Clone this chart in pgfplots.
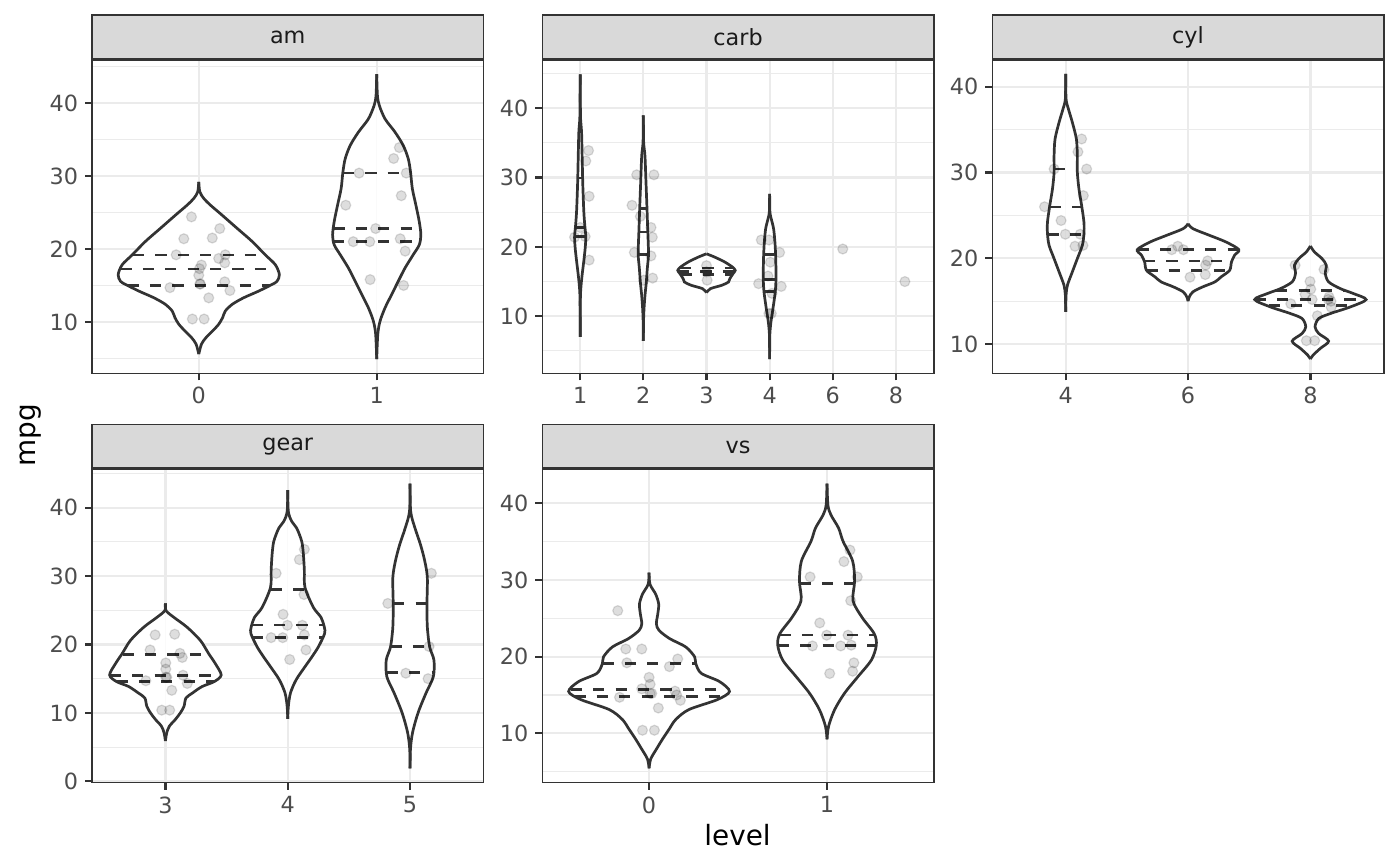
\documentclass[border=0pt]{standalone}
\usepackage{fontspec}
\setmainfont{DejaVu Sans}
\usepackage{pgfplots}
\usepackage{pgfplotstable}
\pgfplotsset{compat=1.18}
\usetikzlibrary{calc}

\definecolor{grey10}{HTML}{1A1A1A}
\definecolor{grey20}{HTML}{333333}
\definecolor{grey30}{HTML}{4D4D4D}
\definecolor{grey85}{HTML}{D9D9D9}
\definecolor{grey92}{HTML}{EBEBEB}

% violin outlines: y, half width (in category units)
\pgfplotstableread{
y w
5.59 0
6.95 0.015
7.86 0.041
8.77 0.078
9.68 0.112
10.59 0.134
11.49 0.149
12.40 0.187
13.31 0.252
14.22 0.336
15.12 0.41
15.58 0.44
16.49 0.453
17.85 0.43
19.21 0.373
21.03 0.30
22.84 0.215
24.66 0.13
26.02 0.065
26.93 0.028
27.83 0.006
29.20 0
}\amA
\pgfplotstableread{
y w
4.91 0
8.32 0.006
10.13 0.019
11.95 0.047
13.76 0.084
15.58 0.121
17.39 0.159
19.21 0.205
20.57 0.239
21.93 0.248
23.75 0.239
26.02 0.22
28.29 0.20
30.56 0.19
32.38 0.177
34.19 0.149
36.01 0.103
37.82 0.047
39.64 0.015
41.0 0.004
43.95 0
}\amB
\pgfplotstableread{
y w
7.03 0
12.0 0.002
14.0 0.01
15.9 0.03
17.8 0.055
19.7 0.078
21.4 0.089
22.9 0.075
25.0 0.058
28.8 0.042
32.6 0.032
36.5 0.022
38.9 0.005
44.89 0
}\carbA
\pgfplotstableread{
y w
6.46 0
9.2 0.003
11.1 0.011
13.0 0.026
14.9 0.047
16.9 0.063
18.8 0.082
20.2 0.079
22.1 0.071
25.5 0.058
29.3 0.042
33.1 0.026
35.1 0.005
38.99 0
}\carbB
\pgfplotstableread{
y w
13.41 0
13.98 0.063
14.46 0.24
14.94 0.35
15.42 0.37
16.14 0.42
16.62 0.455
17.1 0.41
17.82 0.29
18.53 0.13
19.01 0
}\carbC
\pgfplotstableread{
y w
3.82 0
7.27 0.003
9.19 0.021
11.11 0.053
13.5 0.089
15.18 0.1
16.86 0.1
18.77 0.095
20.69 0.084
22.61 0.063
24.04 0.026
25.0 0.005
27.64 0
}\carbD
\pgfplotstableread{
y w
13.76 0
15.70 0.003
16.86 0.014
18.41 0.054
19.96 0.095
21.51 0.136
22.87 0.149
24.22 0.149
26.16 0.13
28.10 0.108
30.04 0.095
31.98 0.095
33.91 0.087
35.85 0.054
37.40 0.022
38.57 0.003
41.47 0
}\cylA
\pgfplotstableread{
y w
15.0 0
15.5 0.01
16.09 0.04
16.67 0.12
17.25 0.22
17.83 0.27
18.6 0.34
19.57 0.355
20.35 0.38
21.01 0.415
21.9 0.31
22.67 0.176
23.45 0.04
24.03 0
}\cylB
\pgfplotstableread{
y w
8.26 0
8.72 0.022
9.5 0.081
10.35 0.149
11.24 0.068
12.02 0.038
12.98 0.068
13.57 0.165
14.34 0.328
15.19 0.455
15.89 0.352
16.47 0.244
17.25 0.149
18.22 0.122
19.19 0.13
19.96 0.095
20.74 0.033
21.43 0
}\cylC
\pgfplotstableread{
y w
5.89 0
7.1 0.011
8.07 0.033
9.03 0.081
10.0 0.122
10.96 0.152
12.17 0.168
12.89 0.22
13.85 0.30
14.58 0.40
15.54 0.456
17.23 0.407
18.68 0.353
20.61 0.285
22.54 0.176
23.98 0.068
24.95 0.005
26.01 0
}\gearA
\pgfplotstableread{
y w
9.13 0
10.96 0.005
12.89 0.022
14.82 0.068
16.75 0.141
18.2 0.198
19.64 0.25
21.57 0.301
22.54 0.299
23.98 0.271
25.43 0.209
28.33 0.141
30.74 0.136
33.15 0.128
35.08 0.114
37.01 0.073
37.97 0.033
39.42 0.005
42.56 0
}\gearB
\pgfplotstableread{
y w
1.89 0
4.69 0.003
7.1 0.02
10.0 0.065
12.89 0.13
15.3 0.19
17.71 0.195
19.64 0.16
22.54 0.141
25.91 0.138
29.77 0.141
32.19 0.12
34.6 0.085
37.01 0.04
39.42 0.005
43.52 0
}\gearC
\pgfplotstableread{
y w
5.43 0
6.64 0.009
7.93 0.041
9.22 0.075
10.51 0.112
11.8 0.15
13.1 0.224
14.39 0.383
15.46 0.452
16.75 0.396
17.83 0.293
19.12 0.262
19.98 0.256
21.27 0.206
22.35 0.116
23.43 0.056
24.29 0.041
25.58 0.049
26.87 0.054
28.16 0.037
29.45 0.005
30.96 0
}\vsA
\pgfplotstableread{
y w
9.22 0
10.94 0.009
13.1 0.043
15.25 0.099
17.4 0.174
19.55 0.249
21.49 0.277
23.0 0.265
25.15 0.196
27.30 0.146
29.88 0.155
32.47 0.144
35.05 0.09
36.77 0.065
38.49 0.022
39.78 0.005
42.58 0
}\vsB

% jittered points
\pgfplotstableread{
x y
0.959 24.4
1.118 22.8
0.916 21.4
1.076 21.5
0.873 19.2
1.149 19.2
1.112 18.7
1.146 18.1
1.015 17.8
1.004 17.3
1.000 16.4
1.146 15.5
1.006 15.2
1.009 15.2
0.838 14.7
1.175 14.3
1.056 13.3
0.964 10.4
1.030 10.4
2.127 33.9
2.095 32.4
1.901 30.4
2.166 30.4
2.138 27.3
1.826 26.0
1.994 22.8
1.868 21.0
1.961 21.0
2.132 21.4
2.160 19.7
1.963 15.8
2.151 15.0
}\amPts
\pgfplotstableread{
x y
1.132 33.9
1.089 32.4
1.142 27.3
1.000 22.8
0.911 21.4
1.079 21.5
1.142 18.1
1.895 30.4
2.168 30.4
1.821 26.0
1.953 24.4
2.121 22.8
2.142 21.4
1.858 19.2
2.121 18.7
2.147 15.5
2.005 15.2
3.000 17.3
3.000 16.4
3.010 15.2
3.868 21.0
3.989 21.0
4.158 19.2
4.011 17.8
3.826 14.7
4.184 14.3
3.974 15.8
4.037 13.3
3.989 10.4
4.026 10.4
5.158 19.7
6.142 15.0
}\carbPts
\pgfplotstableread{
x y
1.130 33.9
1.100 32.4
0.905 30.4
1.171 30.4
1.144 27.3
0.827 26.0
0.962 24.4
0.997 22.8
1.119 22.8
1.076 21.4
1.141 21.5
1.867 21.0
1.916 21.4
1.962 21.0
2.160 19.7
2.144 19.2
2.016 17.8
2.141 18.1
2.875 19.2
3.111 18.7
2.997 17.3
3.003 16.4
2.957 15.8
3.152 15.5
3.014 15.2
3.146 15.2
3.168 15.0
2.840 14.7
3.170 14.3
3.057 13.3
2.967 10.4
3.035 10.4
}\cylPts
\pgfplotstableread{
x y
0.916 21.4
1.076 21.5
0.875 19.2
1.119 18.7
1.138 18.1
1.003 17.3
1.003 16.4
1.144 15.5
1.003 15.2
1.011 15.2
0.840 14.7
1.179 14.3
1.052 13.3
0.970 10.4
1.035 10.4
2.136 33.9
2.095 32.4
1.905 30.4
2.133 27.3
1.962 24.4
1.997 22.8
2.119 22.8
1.864 21.0
1.959 21.0
2.136 21.4
2.149 19.2
2.016 17.8
3.174 30.4
2.818 26.0
3.155 19.7
2.965 15.8
3.147 15.0
}\gearPts
\pgfplotstableread{
x y
0.824 26.0
0.869 21.0
0.959 21.0
1.161 19.7
0.875 19.2
1.114 18.7
1.000 17.3
1.006 16.4
0.959 15.8
1.146 15.5
1.015 15.2
0.834 14.7
1.155 15.0
1.176 14.3
1.006 15.2
1.052 13.3
0.963 10.4
1.030 10.4
2.129 33.9
2.095 32.4
1.905 30.4
2.170 30.4
2.133 27.3
1.959 24.4
1.998 22.8
2.118 22.8
1.918 21.4
2.077 21.4
2.136 21.5
2.151 19.2
2.144 18.1
2.015 17.8
}\vsPts

\pgfplotsset{
  panel/.style={
    scale only axis, width=195.75bp, height=156.65bp, anchor=south west,
    axis line style={draw=grey20, line width=0.7bp},
    tick align=outside, tick pos=left,
    major tick length=3.5bp, minor tick length=0pt,
    every tick/.style={draw=grey20, line width=1.1bp},
    tick label style={font=\fontsize{11.2}{13}\selectfont, text=grey30},
    /pgf/number format/assume math mode=true,
    xmajorgrids, ymajorgrids, yminorgrids,
    major grid style={draw=grey92, line width=1.1bp},
    minor grid style={draw=grey92, line width=0.55bp},
    ytick={10,20,30,40}, minor ytick={5,15,25,35,45},
    xtick={1,...,6},
  },
  vio/.style={draw=grey20, line width=1.35bp, smooth, tension=0.5},
  qline/.style={draw=grey20, line width=1.35bp, dash pattern=on 5.6bp off 5.6bp},
  pts/.style={only marks, mark=*, mark size=2.5bp,
    mark options={draw=black, fill=black, opacity=0.13, line width=0.6bp}},
}

% each half is closed along the centre line and filled white, then outlined
\newcommand{\violin}[2]{%
  \addplot[fill=white, draw=none, smooth, tension=0.5] table[x expr=#1+\thisrow{w}, y=y] {#2} -- cycle;
  \addplot[fill=white, draw=none, smooth, tension=0.5] table[x expr=#1-\thisrow{w}, y=y] {#2} -- cycle;
  \addplot[vio] table[x expr=#1+\thisrow{w}, y=y] {#2};
  \addplot[vio] table[x expr=#1-\thisrow{w}, y=y] {#2};
}
\newcommand{\strip}[2]{%
  \draw[fill=grey85, draw=grey20, line width=0.7bp]
    ([yshift=0.7bp]#1.north west) rectangle ([yshift=22.45bp]#1.north east);
  \node[font=\fontsize{11.2}{13}\selectfont, text=grey10]
    at ($([yshift=11.2bp]#1.north west)!0.5!([yshift=11.2bp]#1.north east)$) {#2};
}

\begin{document}
\begin{tikzpicture}
\path[use as bounding box] (0,0) rectangle (700bp,-433bp);

% am
\begin{axis}[panel, name=am, at={(46bp,-186.65bp)},
  xmin=0.4, xmax=2.6, ymin=2.96, ymax=45.9, xticklabels={0,1}]
\violin{1}{\amA}
\violin{2}{\amB}
\addplot[qline] coordinates {(0.63,19.17) (1.37,19.17)};
\addplot[qline] coordinates {(0.56,17.26) (1.44,17.26)};
\addplot[qline] coordinates {(0.60,14.99) (1.40,14.99)};
\addplot[qline] coordinates {(1.81,30.42) (2.19,30.42)};
\addplot[qline] coordinates {(1.757,22.80) (2.243,22.80)};
\addplot[qline] coordinates {(1.755,20.98) (2.245,20.98)};
\addplot[pts] table {\amPts};
\end{axis}

% carb
\begin{axis}[panel, name=carb, at={(271.15bp,-186.65bp)},
  xmin=0.4, xmax=6.6, ymin=1.77, ymax=46.96, xticklabels={1,2,3,4,6,8}]
\violin{1}{\carbA}
\violin{2}{\carbB}
\violin{3}{\carbC}
\violin{4}{\carbD}
\addplot[qline] coordinates {(0.96,29.94) (1.04,29.94)};
\addplot[qline] coordinates {(0.923,22.75) (1.077,22.75)};
\addplot[qline] coordinates {(0.911,21.5) (1.089,21.5)};
\addplot[qline] coordinates {(1.942,25.58) (2.058,25.58)};
\addplot[qline] coordinates {(1.929,22.13) (2.071,22.13)};
\addplot[qline] coordinates {(1.918,18.87) (2.082,18.87)};
\addplot[qline] coordinates {(2.58,16.95) (3.42,16.95)};
\addplot[qline] coordinates {(2.55,16.47) (3.45,16.47)};
\addplot[qline] coordinates {(2.59,16.0) (3.41,16.0)};
\addplot[qline] coordinates {(3.905,18.87) (4.095,18.87)};
\addplot[qline] coordinates {(3.9,15.27) (4.1,15.27)};
\addplot[qline] coordinates {(3.911,13.6) (4.089,13.6)};
\addplot[pts] table {\carbPts};
\end{axis}

% cyl
\begin{axis}[panel, name=cyl, at={(496.15bp,-186.65bp)},
  xmin=0.4, xmax=3.6, ymin=6.6, ymax=43.1, xticklabels={4,6,8}]
\violin{1}{\cylA}
\violin{2}{\cylB}
\violin{3}{\cylC}
\addplot[qline] coordinates {(0.905,30.39) (1.095,30.39)};
\addplot[qline] coordinates {(0.87,25.97) (1.13,25.97)};
\addplot[qline] coordinates {(0.851,22.79) (1.149,22.79)};
\addplot[qline] coordinates {(1.59,21.0) (2.41,21.0)};
\addplot[qline] coordinates {(1.64,19.69) (2.36,19.69)};
\addplot[qline] coordinates {(1.66,18.6) (2.34,18.6)};
\addplot[qline] coordinates {(2.72,16.24) (3.28,16.24)};
\addplot[qline] coordinates {(2.545,15.19) (3.455,15.19)};
\addplot[qline] coordinates {(2.66,14.46) (3.34,14.46)};
\addplot[pts] table {\cylPts};
\end{axis}

% gear
\begin{axis}[panel, name=gear, at={(46bp,-391.3bp)},
  xmin=0.4, xmax=3.6, ymin=-0.19, ymax=45.6, xticklabels={3,4,5},
  ytick={0,10,20,30,40}]
\violin{1}{\gearA}
\violin{2}{\gearB}
\violin{3}{\gearC}
\addplot[qline] coordinates {(0.65,18.49) (1.35,18.49)};
\addplot[qline] coordinates {(0.545,15.49) (1.455,15.49)};
\addplot[qline] coordinates {(0.60,14.58) (1.40,14.58)};
\addplot[qline] coordinates {(1.86,28.08) (2.14,28.08)};
\addplot[qline] coordinates {(1.705,22.83) (2.295,22.83)};
\addplot[qline] coordinates {(1.71,21.04) (2.29,21.04)};
\addplot[qline] coordinates {(2.862,26.01) (3.138,26.01)};
\addplot[qline] coordinates {(2.84,19.74) (3.16,19.74)};
\addplot[qline] coordinates {(2.81,15.88) (3.19,15.88)};
\addplot[pts] table {\gearPts};
\end{axis}

% vs
\begin{axis}[panel, name=vs, at={(271.15bp,-391.3bp)},
  xmin=0.4, xmax=2.6, ymin=3.57, ymax=44.44, xticklabels={0,1}]
\violin{1}{\vsA}
\violin{2}{\vsB}
\addplot[qline] coordinates {(0.738,19.12) (1.262,19.12)};
\addplot[qline] coordinates {(0.56,15.68) (1.44,15.68)};
\addplot[qline] coordinates {(0.58,14.77) (1.42,14.77)};
\addplot[qline] coordinates {(1.845,29.58) (2.155,29.58)};
\addplot[qline] coordinates {(1.733,22.82) (2.267,22.82)};
\addplot[qline] coordinates {(1.723,21.45) (2.277,21.45)};
\addplot[pts] table {\vsPts};
\end{axis}

\strip{am}{am}
\strip{carb}{carb}
\strip{cyl}{cyl}
\strip{gear}{gear}
\strip{vs}{vs}

\node[font=\fontsize{14}{16}\selectfont, rotate=90] at (15.5bp,-217.5bp) {mpg};
\node[font=\fontsize{14}{16}\selectfont] at (368.75bp,-417.5bp) {level};
\end{tikzpicture}
\end{document}
